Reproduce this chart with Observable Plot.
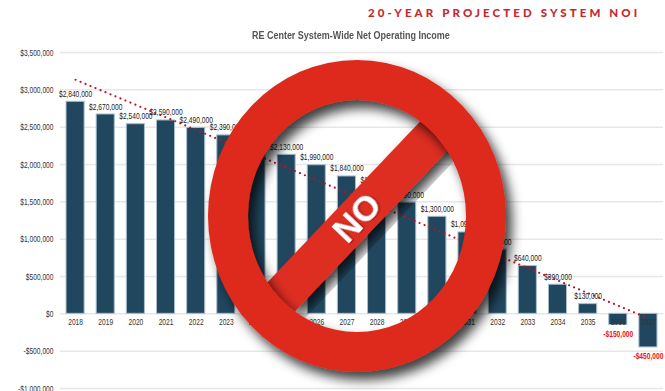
<!DOCTYPE html>
<html>
<head>
<meta charset="utf-8">
<script src="https://cdn.jsdelivr.net/npm/d3@7"></script>
<script src="https://cdn.jsdelivr.net/npm/@observablehq/plot@0.6"></script>
<style>
  html, body { margin: 0; padding: 0; background: #fff; }
  #page { position: relative; width: 665px; height: 391px; overflow: hidden; }
  #head { position: relative; height: 44px; }
  h1 {
    position: absolute; margin: 0; left: 368px; top: 6px; white-space: nowrap;
    font: 900 11.5px/14px Lato, sans-serif; letter-spacing: 3.1px; color: #c9282d;
  }
  h2 {
    position: absolute; margin: 0; left: 252px; top: 28px; white-space: nowrap;
    font: bold 11.5px/14px "Liberation Sans", sans-serif;
    color: #555; transform: scaleX(0.78); transform-origin: 0 50%;
  }
  #chart svg { display: block; }
  #sign { position: absolute; left: 0; top: 0; }
</style>
</head>
<body>
<div id="page">
  <div id="head">
    <h1>20-YEAR PROJECTED SYSTEM NOI</h1>
    <h2>RE Center System-Wide Net Operating Income</h2>
  </div>
  <div id="chart"></div>
  <svg id="sign" width="665" height="391" viewBox="0 0 665 391">
    <defs>
      <filter id="cast" x="-20%" y="-20%" width="150%" height="150%">
        <feDropShadow dx="6" dy="8" stdDeviation="6" flood-color="#000" flood-opacity="0.75"/>
      </filter>
      <filter id="castSmall" x="-20%" y="-20%" width="150%" height="150%">
        <feDropShadow dx="1" dy="1" stdDeviation="1" flood-color="#000" flood-opacity="0.45"/>
      </filter>
    </defs>
    <g transform="translate(357.5 216.5) rotate(-46.5)">
      <rect x="-116" y="-20" width="232" height="40" fill="#de2d20" filter="url(#cast)"/>
    </g>
    <path filter="url(#cast)" fill="#dd2a1b" fill-rule="evenodd"
      d="M208 216a149 156 0 1 0 298 0a149 156 0 1 0 -298 0Z
         M248 216a109 116 0 1 0 218 0a109 116 0 1 0 -218 0Z"/>
    <g transform="translate(356 217) rotate(-46.5)">
      <text text-anchor="middle" y="12.5" fill="#fff" filter="url(#castSmall)"
        font-family="'Liberation Sans', sans-serif" font-weight="bold" font-size="35">NO</text>
    </g>
  </svg>
</div>
<script>
// Projected net operating income per year, in dollars
const years = [2018, 2019, 2020, 2021, 2022, 2023, 2024, 2025, 2026, 2027,
               2028, 2029, 2030, 2031, 2032, 2033, 2034, 2035, 2036, 2037];
const noi = [2840000, 2670000, 2540000, 2590000, 2490000, 2390000, 2260000, 2130000, 1990000, 1840000,
             1680000, 1490000, 1300000, 1090000, 860000, 640000, 390000, 130000, -150000, -450000];

// End points of the dotted trend line
const trendYears = [2018, 2037];
const trendValues = [3135000, -60000];

const yTicks = [-1000000, -500000, 0, 500000, 1000000, 1500000, 2000000, 2500000, 3000000, 3500000];

const dollars = v => (v < 0 ? "-" : "") + "$" + d3.format(",")(Math.abs(v));

const rows = years.map((year, i) => ({year, value: noi[i]}));
const trend = trendYears.map((year, i) => ({year, value: trendValues[i]}));
const gains = rows.filter(d => d.value >= 0);
const losses = rows.filter(d => d.value < 0);

const labelFont = {fontSize: 9.5, fontFamily: "'Liberation Sans', sans-serif"};

const plot = Plot.plot({
  width: 665,
  height: 347,
  marginTop: 8,
  marginRight: 2,
  marginBottom: 3,
  marginLeft: 60,
  style: {background: "transparent", ...labelFont, color: "#333"},
  x: {type: "band", domain: years, paddingInner: 0.4, paddingOuter: 0.2, round: false, label: null},
  y: {domain: [-1000000, 3500000], label: null},
  marks: [
    Plot.gridY(yTicks, {stroke: "#e7e7e7", strokeOpacity: 1, strokeWidth: 1.5}),
    Plot.axisY(yTicks, {tickSize: 0, tickPadding: 7, tickFormat: dollars, label: null, fill: "#333"}),
    Plot.barY(rows, {x: "year", y: "value", fill: "#21475f", stroke: "#a9bfd0", strokeWidth: 1}),
    Plot.axisX({tickSize: 0, tickPadding: -70, tickFormat: String, label: null, fill: "#333"}),
    Plot.text(gains, {x: "year", y: "value", text: d => dollars(d.value), dy: -8, fill: "#222", ...labelFont}),
    Plot.text(losses, {x: "year", y: "value", text: d => dollars(d.value), dy: 8.5, fill: "#f01010", fontWeight: "bold", ...labelFont}),
    Plot.line(trend, {x: "year", y: "value", stroke: "#c0101c", strokeWidth: 2.2, strokeDasharray: "0 5.4", strokeLinecap: "round"})
  ]
});
document.getElementById("chart").append(plot);

// All chart labels are set in a condensed cut of the sans face
plot.querySelectorAll("text").forEach(t => {
  t.setAttribute("textLength", (t.getComputedTextLength() * 0.7).toFixed(1));
  t.setAttribute("lengthAdjust", "spacingAndGlyphs");
});
</script>
</body>
</html>
